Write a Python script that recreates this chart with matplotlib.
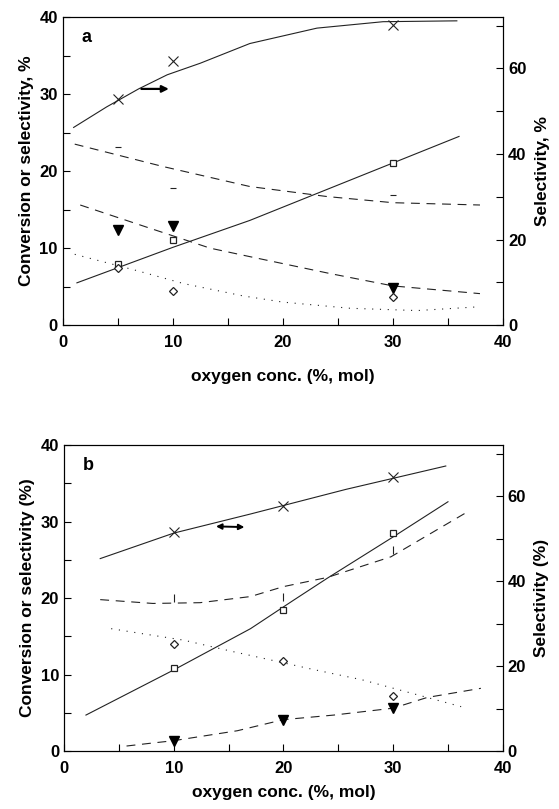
import matplotlib
matplotlib.use("Agg")
import matplotlib.pyplot as plt
from matplotlib.ticker import MultipleLocator

plt.rcParams['font.family'] = ['Liberation Sans', 'DejaVu Sans']
plt.rcParams['font.weight'] = 'bold'

# ---------- panel a ----------
a_sel_x = [1.0, 4.0, 6.9, 9.5, 12.5, 17.0, 23.1, 29.1, 35.8]
a_sel_y = [46.2, 51.0, 55.2, 58.5, 61.2, 65.8, 69.4, 70.9, 71.1]
a_sel_px = [5, 10, 30]
a_sel_py = [52.8, 61.8, 70.1]

a_sq_x = [1.3, 10.0, 17.0, 23.1, 29.9, 36.0]
a_sq_y = [5.5, 10.1, 13.6, 17.1, 21.0, 24.5]
a_sq_px = [5, 10, 30]
a_sq_py = [7.9, 11.1, 21.0]

a_dash1_x = [1.1, 9.1, 17.0, 24.0, 30.0, 37.9]
a_dash1_y = [23.5, 20.6, 18.0, 16.7, 15.9, 15.6]
a_dash1_px = [5, 10, 30]
a_dash1_py = [23.1, 17.8, 16.9]

a_tri_x = [1.6, 7.9, 13.4, 17.0, 24.3, 30.0, 37.9]
a_tri_y = [15.6, 12.6, 10.0, 8.9, 6.7, 5.1, 4.1]
a_tri_px = [5, 10, 30]
a_tri_py = [12.4, 12.9, 4.8]

a_dot_x = [1.1, 6.7, 11.0, 16.4, 20.0, 26.1, 32.2, 37.9]
a_dot_y = [9.2, 7.1, 5.4, 3.8, 3.0, 2.2, 1.9, 2.4]
a_dia_px = [5, 10, 30]
a_dia_py = [7.4, 4.4, 3.7]

# ---------- panel b ----------
b_sel_x = [3.3, 10.0, 17.0, 25.7, 34.8]
b_sel_y = [45.3, 51.3, 55.8, 61.6, 67.1]
b_sel_px = [10, 20, 30]
b_sel_py = [51.5, 57.6, 64.4]

b_sq_x = [2.0, 10.0, 17.0, 20.9, 24.0, 30.0, 35.0]
b_sq_y = [4.7, 10.6, 16.0, 19.7, 22.6, 28.0, 32.6]
b_sq_px = [10, 20, 30]
b_sq_py = [10.8, 18.5, 28.5]

b_dash1_x = [3.3, 8.1, 12.4, 17.0, 20.0, 24.0, 29.8, 36.8]
b_dash1_y = [19.8, 19.3, 19.4, 20.2, 21.5, 22.7, 25.4, 31.3]
b_dash1_px = [10, 20, 30]
b_dash1_py = [20.0, 20.2, 26.3]

b_dot_x = [4.3, 6.9, 10.9, 15.4, 17.3, 22.6, 27.2, 36.2]
b_dot_y = [16.0, 15.4, 14.5, 13.0, 12.4, 10.7, 9.3, 5.8]
b_dia_px = [10, 20, 30]
b_dia_py = [14.0, 11.8, 7.2]

b_tri_x = [5.7, 7.8, 10.0, 15.8, 20.0, 24.6, 30.0, 33.1, 38.0]
b_tri_y = [0.65, 1.0, 1.35, 2.65, 4.1, 4.7, 5.6, 7.0, 8.2]
b_tri_px = [10, 20, 30]
b_tri_py = [1.35, 4.1, 5.6]

LC = '#222222'


def setup(ax, ax2, ylab, y2lab, letter, xpad):
    ax.set_xlim(0, 40)
    ax.set_ylim(0, 40)
    ax2.set_ylim(0, 72)
    ax.xaxis.set_major_locator(MultipleLocator(10))
    ax.xaxis.set_minor_locator(MultipleLocator(5))
    ax.yaxis.set_major_locator(MultipleLocator(10))
    ax.yaxis.set_minor_locator(MultipleLocator(5))
    ax2.yaxis.set_major_locator(MultipleLocator(20))
    ax2.yaxis.set_minor_locator(MultipleLocator(10))
    ax.tick_params(which='both', direction='in', labelsize=12, length=5, width=0.8,
                   top=False, right=False)
    ax.tick_params(axis='x', pad=7)
    ax2.tick_params(which='both', direction='in', labelsize=12, length=5, width=0.8)
    for lab in ax.get_xticklabels() + ax.get_yticklabels() + ax2.get_yticklabels():
        lab.set_fontweight('bold')
    ax.set_xlabel('oxygen conc. (%, mol)', fontsize=12.5, fontweight='bold', labelpad=xpad)
    ax.set_ylabel(ylab, fontsize=12.5, fontweight='bold', labelpad=4)
    ax2.set_ylabel(y2lab, fontsize=12.5, fontweight='bold', labelpad=6)
    ax.text(2.2, 37.4, letter, fontsize=13, va='center', ha='center')


fig = plt.figure(figsize=(5.59, 8.09), dpi=100)

# panel a
ax = fig.add_axes([0.112, 0.598, 0.788, 0.381])
ax2 = ax.twinx()
ax2.plot(a_sel_x, a_sel_y, '-', color=LC, lw=0.8)
ax2.plot(a_sel_px, a_sel_py, 'x', color=LC, ms=7, mew=0.8)
ax2.annotate('', xy=(9.9, 55.2), xytext=(6.9, 55.2),
             arrowprops=dict(arrowstyle='-|>', color='black', lw=1.6, mutation_scale=10))
ax.plot(a_sq_x, a_sq_y, '-', color=LC, lw=0.8)
ax.plot(a_sq_px, a_sq_py, 's', mfc='white', mec=LC, ms=5, mew=0.9)
ax.plot(a_dash1_x, a_dash1_y, '--', color=LC, lw=0.8, dashes=(8, 6))
ax.plot(a_dash1_px, a_dash1_py, '_', color=LC, ms=5, mew=0.8)
ax.plot(a_tri_x, a_tri_y, '--', color=LC, lw=0.8, dashes=(8, 6))
ax.plot(a_tri_px, a_tri_py, 'v', color='black', ms=7)
ax.plot(a_dot_x, a_dot_y, ':', color=LC, lw=0.8, dashes=(1, 6))
ax.plot(a_dia_px, a_dia_py, 'D', mfc='white', mec=LC, ms=4.5, mew=0.9)
setup(ax, ax2, 'Conversion or selectivity, %', 'Selectivity, %', 'a', 14)

# panel b
bx = fig.add_axes([0.1145, 0.0717, 0.785, 0.378])
bx2 = bx.twinx()
bx2.plot(b_sel_x, b_sel_y, '-', color=LC, lw=0.8)
bx2.plot(b_sel_px, b_sel_py, 'x', color=LC, ms=7, mew=0.8)
bx2.annotate('', xy=(16.7, 52.7), xytext=(13.6, 52.9),
             arrowprops=dict(arrowstyle='<|-|>', color='black', lw=1.4, mutation_scale=8))
bx.plot(b_sq_x, b_sq_y, '-', color=LC, lw=0.8)
bx.plot(b_sq_px, b_sq_py, 's', mfc='white', mec=LC, ms=5, mew=0.9)
bx.plot(b_dash1_x, b_dash1_y, '--', color=LC, lw=0.8, dashes=(8, 6))
bx.plot(b_dash1_px, b_dash1_py, '|', color=LC, ms=6, mew=0.8)
bx.plot(b_dot_x, b_dot_y, ':', color=LC, lw=0.8, dashes=(1, 6))
bx.plot(b_dia_px, b_dia_py, 'D', mfc='white', mec=LC, ms=4.5, mew=0.9)
bx.plot(b_tri_x, b_tri_y, '--', color=LC, lw=0.8, dashes=(8, 6))
bx.plot(b_tri_px, b_tri_py, 'v', color='black', ms=7)
setup(bx, bx2, 'Conversion or selectivity (%)', 'Selectivity (%)', 'b', 7)

fig.savefig('out.png', dpi=100)
